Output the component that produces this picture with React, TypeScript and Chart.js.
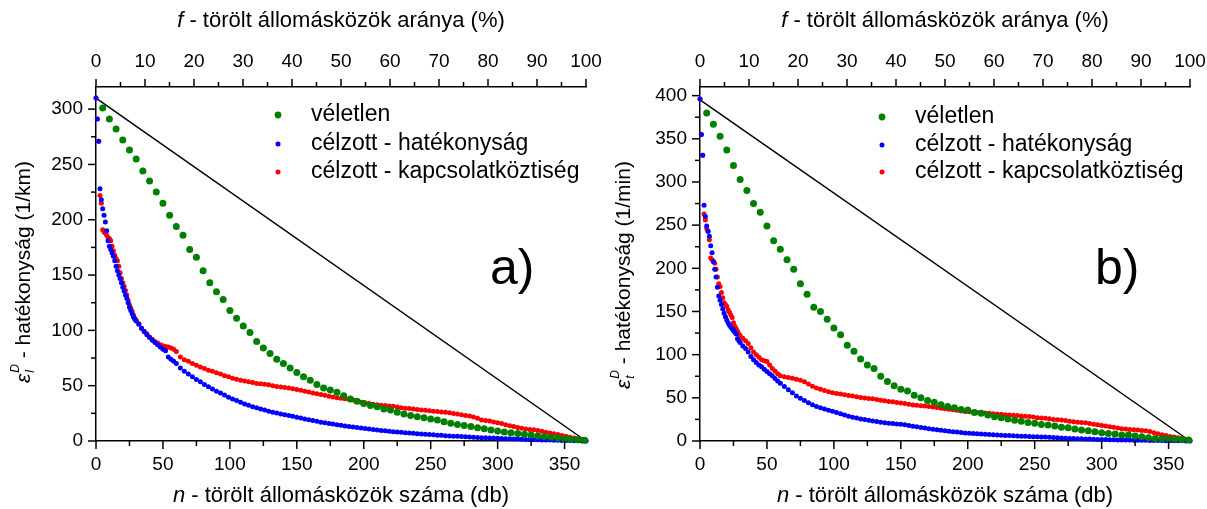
import { useEffect, useRef } from 'react';
import { Chart, registerables } from 'chart.js';
Chart.register(...registerables);

const FONT = '"Liberation Sans", Arial, sans-serif';

// x positions (n - number of removed links) for the targeted series
const nGrid = [0,1,2,3,4,5,6,7,8,9,10,11,12,13,14,15,16,17,18,19,20,21,22,23,24,25,26,27,28,29,30,
  32,34,36,38,40,42,44,46,48,50,52,54,56,58,60,
  63,66,69,72,75,78,81,84,87,90,93,96,99,102,105,108,111,114,117,120,
  123,126,129,132,135,138,141,144,147,150,153,156,159,162,165,168,171,174,177,180,
  183,186,189,192,195,198,201,204,207,210,213,216,219,222,225,228,231,234,237,240,
  243,246,249,252,255,258,261,264,267,270,273,276,279,282,285,288,291,294,297,300,
  303,306,309,312,315,318,321,324,327,330,333,336,339,342,345,348,351,354,357,360,363,366];

// x positions for the random series
const nRandom = [5,10,15,20,25,30,35,40,45,50,55,60,65,70,75,80,85,90,95,100,105,110,115,120,125,130,135,140,145,150,
  155,160,165,170,175,180,185,190,195,200,205,210,215,220,225,230,235,240,245,250,255,260,265,270,275,280,285,290,295,300,
  305,310,315,320,325,330,335,340,345,350,355,360,365];

// ---- panel a) ----
const aRandom = [301,291,282,272,263,255,244,235,225,215,204,194,186,173,166,154,143,135,128,118,111,104,98,90,84,79,74,70,66,62,
  58,55,51,48,46,44,41,38,36,34,32,31,29,28,26,24.5,23,22,21,20,19,17.5,16,15,14,13,12,11,10,9,
  8.2,7.5,6.7,6,5.4,4.6,4,3.3,2.7,2.1,1.5,1.1,0.7];
const aEfficiency = [310,291,271,228,218,210,204,198,190,181,176,173,170,167,163,158,154,150,147,143,139,135.5,132,129,125,121,118,115,112,110,108.5,
  105.5,102,99,96,93.5,91,89,87,85,83,81.5,76,74,72,70,
  66,63,60.5,58,55.5,53.5,51,49,47,45,43.5,41.5,39.5,38,36.5,35,33.5,32.3,31,30,
  29,28,27,26,25.3,24.5,23.8,23,22.3,21.5,20.8,20,19.3,18.5,17.8,17,16.4,15.8,15.3,14.8,
  14.2,13.6,13.1,12.6,12.1,11.7,11.2,10.8,10.3,9.9,9.5,9.2,8.8,8.4,8.1,7.8,7.5,7.2,6.9,6.6,
  6.3,6,5.8,5.6,5.3,5.1,4.8,4.6,4.4,4.2,4,3.8,3.6,3.4,3.2,3,2.9,2.7,2.6,2.4,
  2.3,2.1,2,1.8,1.7,1.5,1.4,1.3,1.2,1.1,1,0.9,0.8,0.7,0.6,0.5,0.4,0.4,0.3,0.2,0.1,0];
const aBetweenness = [310,291,271,222,215,191,189,188,186,184,183,181,176,172,168,165,163,158,152,147,143,140,136,132,127,123,120,117,114,111,109,
  106,102,99,97,94,92,90,88.5,87,86,85.5,85,84,83,81,
  76,73.5,72,70,68.5,67,65.5,64,63,61.8,60.5,59,58,56.8,55.8,55,54.3,53.5,52.8,52,
  51.7,51.3,50.8,50,49.3,48.8,48.4,48,47.3,46.5,45.8,45,44.3,43.5,42.8,42,41.3,40.5,39.8,39,
  38.6,38.3,37.8,37,36,35,34.4,34,33.3,32.8,32.4,32,31.6,31.3,30.8,30,29.6,29.3,28.9,28.5,
  28.1,27.8,27.4,27,26.6,26.3,25.9,25.5,24.8,24.3,23.8,23,22.6,21.8,20.5,19,18.6,18,17.2,16.5,
  15.8,14.7,13.8,13,12.3,11.5,10.9,10.5,10.1,9.5,8.8,8,7.3,6.5,5.8,5,4.3,3.5,2.8,2,1.3,0.5];
const aLineN = [0, 366];
const aLineV = [310, 0];

// ---- panel b) ----
const bRandom = [380,367,353,337,319,303,290,275,265,249,232,222,210,199,182,170,155,150,141,131,123,111,104,95,88,84,75,69,64,60,
  58,53,50,47,45,42,40,38.5,36.5,36,33,32,30,28,27,25.5,24,23,21.5,20.5,19,18.5,17.3,16,15.4,14,12.7,12,10.8,9.6,
  8.8,8,7,7,5.8,5,3.8,3,3,2.7,2.3,1.8,1.2];
const bEfficiency = [396,355,331,273,260,249,243,237,226,218,208,199,190,178,168,163,158,153,148,144,140,137,134,132,130,128,126,124,118.5,116,114,
  110,107,103,98,94,91,88,86,83,80.5,78,75.5,72.5,69.5,67,
  63,59.5,56,52,49.5,46.8,44.3,42,40,38.5,37,35.5,34.4,33,31.5,30,28.7,27.6,26.6,25.5,
  24.8,24,23.3,22.5,21.8,21.2,20.6,20.2,19.7,19.3,18.8,18,17.2,16.5,15.7,15,14.2,13.6,13,12.5,
  12,11.4,10.8,10.3,9.8,9.4,9,8.7,8.4,8.1,7.8,7.5,7.2,6.9,6.7,6.5,6.3,6,5.8,5.6,
  5.4,5.2,5,4.9,4.7,4.5,4.2,4,3.7,3.4,3.2,3,2.9,2.7,2.5,2.3,2.2,2,1.8,1.7,
  1.6,1.5,1.4,1.3,1.2,1.15,1.1,1,0.9,0.85,0.8,0.7,0.65,0.6,0.5,0.4,0.35,0.3,0.2,0.15,0.1,0];
const bBetweenness = [396,355,331,263,256,246,243,233,212,210,208,206,199,190,182,179,172,166,160,158,156,152,149,146,143,137,133,130,127,124,122,
  119,116,113,108,103,100,97,94,93,92,88,84,81,78,75.5,
  74.5,73.5,72.8,71.5,70.3,68.5,66,63.5,61.5,60,58.5,57,56,55,54.3,53.5,52.8,52,51.3,50.5,
  49.8,49.3,48.8,48,47.3,46.5,45.8,45.4,44.7,44,43.3,42.5,41.8,41.3,40.9,40.5,40,39.4,38.8,38,
  37.3,36.8,36.3,35.5,34.8,34.3,33.9,33.5,33.1,32.8,32.4,32,31.6,31.3,30.9,30.5,30.1,29.8,29.4,29,
  28.6,28.3,27.8,27,26.6,26.3,25.8,25,24.6,24.3,23.8,23,22.3,21.8,21.4,21,20.3,19.5,18.8,18,
  17.3,16.5,15.8,15,14.3,13.8,13.4,13,12.6,12.3,11.8,11,9.5,8.3,7.3,6.5,5.3,4.5,3.7,2.5,1.8,1];
const bLineN = [0, 366];
const bLineV = [395, 0];

const seriesNames = ['véletlen', 'célzott - hatékonyság', 'célzott - kapcsolatköztiség'];
const seriesColors = ['#008000', '#0000ff', '#ff0000'];
const nTickLabels = [0, 50, 100, 150, 200, 250, 300, 350];
const fTickLabels = [0, 10, 20, 30, 40, 50, 60, 70, 80, 90, 100];

const xy = (xs: number[], ys: number[]) => xs.map((x, i) => ({ x, y: ys[i] }));

type PanelCfg = {
  width: number;
  padRight: number;
  yMax: number;
  yTicks: number[];
  random: number[];
  eff: number[];
  betw: number[];
  lineN: number[];
  lineV: number[];
  ySub: string;
  yUnit: string;
  yTitleX: number;
  yTitleY: number;
  legendX: number;
  legendY: number[];
  tag: string;
  tagX: number;
  tagY: number;
};

const panels: PanelCfg[] = [
  {
    width: 604, padRight: 18, yMax: 320, yTicks: [0, 50, 100, 150, 200, 250, 300],
    random: aRandom, eff: aEfficiency, betw: aBetweenness, lineN: aLineN, lineV: aLineV,
    ySub: 'l', yUnit: ' - hatékonyság (1/km)', yTitleX: 23, yTitleY: 272,
    legendX: 278, legendY: [115, 144, 172], tag: 'a)', tagX: 490, tagY: 284,
  },
  {
    width: 603, padRight: 17, yMax: 410, yTicks: [0, 50, 100, 150, 200, 250, 300, 350, 400],
    random: bRandom, eff: bEfficiency, betw: bBetweenness, lineN: bLineN, lineV: bLineV,
    ySub: 't', yUnit: ' - hatékonyság (1/min)', yTitleX: 19, yTitleY: 275,
    legendX: 278, legendY: [117, 145, 172], tag: 'b)', tagX: 491, tagY: 284,
  },
];

function makeDecor(cfg: PanelCfg) {
  return {
    id: 'decor',
    afterDraw(chart: any) {
      const { ctx, chartArea } = chart;
      const { left, right, top, bottom } = chartArea;
      const sx = chart.scales.x, sx2 = chart.scales.x2, sy = chart.scales.y;
      ctx.save();
      ctx.strokeStyle = '#000';
      ctx.lineWidth = 1.5;
      const line = (x1: number, y1: number, x2: number, y2: number) => {
        ctx.beginPath(); ctx.moveTo(x1, y1); ctx.lineTo(x2, y2); ctx.stroke();
      };
      nTickLabels.forEach((v) => {
        const p = sx.getPixelForValue(v);
        line(p, bottom, p, bottom + 8);
        const m = v + 25;
        if (m < 366) { const q = sx.getPixelForValue(m); line(q, bottom, q, bottom + 5); }
      });
      fTickLabels.forEach((v) => {
        const p = sx2.getPixelForValue(v);
        line(p, top, p, top - 8);
        const m = v + 5;
        if (m < 100) { const q = sx2.getPixelForValue(m); line(q, top, q, top - 5); }
      });
      cfg.yTicks.forEach((v) => {
        const p = sy.getPixelForValue(v);
        line(left - 8, p, left, p);
        const m = v + 25;
        if (m < cfg.yMax - 1) { const q = sy.getPixelForValue(m); line(left - 5, q, left, q); }
      });

      ctx.fillStyle = '#000';
      ctx.textBaseline = 'alphabetic';
      const cx = (left + right) / 2;
      const drawMixed = (italic: string, rest: string, x: number, y: number, size: number) => {
        ctx.font = `italic ${size}px ${FONT}`;
        const w1 = ctx.measureText(italic).width;
        ctx.font = `${size}px ${FONT}`;
        const w2 = ctx.measureText(rest).width;
        const x0 = x - (w1 + w2) / 2;
        ctx.font = `italic ${size}px ${FONT}`;
        ctx.textAlign = 'left';
        ctx.fillText(italic, x0, y);
        ctx.font = `${size}px ${FONT}`;
        ctx.fillText(rest, x0 + w1, y);
      };
      drawMixed('f', ' - törölt állomásközök aránya (%)', cx, 27, 22);
      drawMixed('n', ' - törölt állomásközök száma (db)', cx, 502, 22);

      ctx.save();
      ctx.translate(cfg.yTitleX, cfg.yTitleY);
      ctx.rotate(-Math.PI / 2);
      ctx.font = `italic 21px ${FONT}`;
      const we = ctx.measureText('ε').width;
      ctx.font = `italic 12px ${FONT}`;
      const wsup = ctx.measureText('D').width;
      const wsub = ctx.measureText(cfg.ySub).width;
      const ws = Math.max(wsup, wsub) + 1;
      ctx.font = `21px ${FONT}`;
      const wr = ctx.measureText(cfg.yUnit).width;
      const x0 = -(we + ws + wr) / 2;
      const base = 7;
      ctx.textAlign = 'left';
      ctx.font = `italic 21px ${FONT}`;
      ctx.fillText('ε', x0, base);
      ctx.font = `italic 12px ${FONT}`;
      ctx.fillText('D', x0 + we + 1, base - 11);
      ctx.fillText(cfg.ySub, x0 + we + 1, base + 4);
      ctx.font = `21px ${FONT}`;
      ctx.fillText(cfg.yUnit, x0 + we + ws, base);
      ctx.restore();

      ctx.textAlign = 'left';
      ctx.textBaseline = 'middle';
      ctx.font = `23px ${FONT}`;
      seriesNames.forEach((name, i) => {
        const y = cfg.legendY[i];
        ctx.fillStyle = seriesColors[i];
        ctx.beginPath();
        ctx.arc(cfg.legendX, y, i === 0 ? 3.4 : 2.5, 0, Math.PI * 2);
        ctx.fill();
        ctx.fillStyle = '#000';
        ctx.fillText(name, cfg.legendX + 33, y);
      });

      ctx.textBaseline = 'alphabetic';
      ctx.font = `50px ${FONT}`;
      ctx.fillText(cfg.tag, cfg.tagX, cfg.tagY);
      ctx.restore();
    },
  };
}

function Panel({ cfg }: { cfg: PanelCfg }) {
  const ref = useRef<HTMLCanvasElement | null>(null);
  useEffect(() => {
    if (!ref.current) return;
    const tickFont = { family: FONT, size: 19 };
    const border = { display: true, color: '#000', width: 1.5 };
    const noPad = (s: any, h: number) => { s.height = h; s.paddingLeft = 0; s.paddingRight = 0; };
    const chart = new Chart(ref.current, {
      type: 'scatter',
      data: {
        datasets: [
          { label: seriesNames[0], data: xy(nRandom, cfg.random), backgroundColor: seriesColors[0], pointRadius: 3.5, pointBorderWidth: 0, clip: false } as any,
          { label: seriesNames[1], data: xy(nGrid, cfg.eff), backgroundColor: seriesColors[1], pointRadius: 2.5, pointBorderWidth: 0, clip: false } as any,
          { label: seriesNames[2], data: xy(nGrid, cfg.betw), backgroundColor: seriesColors[2], pointRadius: 2.5, pointBorderWidth: 0, clip: false } as any,
          { type: 'line', label: 'ref', data: xy(cfg.lineN, cfg.lineV), borderColor: '#000', borderWidth: 1.5, pointRadius: 0, showLine: true, fill: false, clip: false } as any,
        ],
      },
      options: {
        responsive: false,
        animation: false,
        devicePixelRatio: 1,
        layout: { autoPadding: false, padding: { left: 0, right: cfg.padRight, top: 0, bottom: 0 } },
        plugins: { legend: { display: false }, tooltip: { enabled: false } },
        scales: {
          x: {
            type: 'linear', position: 'bottom', min: 0, max: 366,
            border, grid: { display: false, drawTicks: true, tickLength: 8 },
            ticks: { stepSize: 50, includeBounds: false, autoSkip: false, maxRotation: 0, color: '#000', font: tickFont, padding: 4 },
            afterFit: (s: any) => noPad(s, 68),
          },
          x2: {
            type: 'linear', position: 'top', min: 0, max: 100,
            border, grid: { display: false, drawTicks: true, tickLength: 8 },
            ticks: { stepSize: 10, includeBounds: false, autoSkip: false, maxRotation: 0, color: '#000', font: tickFont, padding: 6 },
            afterFit: (s: any) => noPad(s, 87),
          },
          y: {
            type: 'linear', position: 'left', min: 0, max: cfg.yMax,
            border, grid: { display: false, drawTicks: true, tickLength: 8 },
            ticks: { stepSize: 50, includeBounds: false, autoSkip: false, color: '#000', font: tickFont, padding: 5 },
            afterFit: (s: any) => { s.width = 96; s.paddingTop = 0; s.paddingBottom = 0; },
          },
        },
      } as any,
      plugins: [makeDecor(cfg)],
    });
    return () => chart.destroy();
  }, [cfg]);
  return <canvas ref={ref} width={cfg.width} height={509} style={{ display: 'block' }} />;
}

export default function App() {
  return (
    <div style={{ position: 'fixed', left: 0, top: 0, width: 1207, height: 509, display: 'flex', background: '#fff' }}>
      <Panel cfg={panels[0]} />
      <Panel cfg={panels[1]} />
    </div>
  );
}
